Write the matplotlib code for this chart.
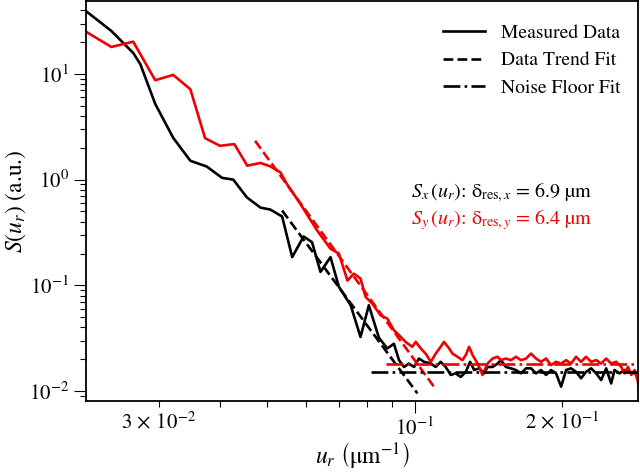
import matplotlib
matplotlib.use("Agg")
import matplotlib.pyplot as plt
from matplotlib.ticker import FuncFormatter, LogLocator

plt.rcParams["font.family"] = "STIXGeneral"
plt.rcParams["mathtext.fontset"] = "stix"
plt.rcParams["font.size"] = 14

# measured spectrum, x direction (black)
ux = [0.0213, 0.0240, 0.0266, 0.0275, 0.0295, 0.0321, 0.0348, 0.0376, 0.0404, 0.0426,
      0.0454, 0.0484, 0.0507, 0.0536, 0.0562, 0.0593, 0.0617, 0.0642, 0.0673, 0.0700,
      0.0740, 0.0775, 0.0806, 0.0845, 0.0879, 0.0907, 0.0929, 0.0951, 0.0973, 0.0997,
      0.1020, 0.1045, 0.1079, 0.1104, 0.1130, 0.1157, 0.1185, 0.1213, 0.1242, 0.1272,
      0.1298, 0.1323, 0.1355, 0.1387, 0.1409, 0.1443, 0.1477, 0.1500, 0.1536, 0.1573,
      0.1611, 0.1649, 0.1689, 0.1729, 0.1770, 0.1812, 0.1856, 0.1900, 0.1945, 0.1992,
      0.2039, 0.2087, 0.2137, 0.2188, 0.2240, 0.2294, 0.2349, 0.2405, 0.2462, 0.2521,
      0.2560, 0.2622, 0.2685, 0.2749, 0.2815, 0.2883]
sx = [39.3, 25.5, 15.8, 12.4, 5.21, 2.49, 1.51, 1.33, 1.04, 1.00,
      0.68, 0.544, 0.521, 0.448, 0.185, 0.290, 0.256, 0.134, 0.185, 0.097,
      0.0648, 0.0325, 0.0648, 0.0320, 0.0253, 0.0280, 0.0196, 0.0169, 0.0182, 0.0169,
      0.0203, 0.0189, 0.0182, 0.0169, 0.0189, 0.0169, 0.0142, 0.0147, 0.0136, 0.0152,
      0.0189, 0.0158, 0.0164, 0.0147, 0.0169, 0.0169, 0.0182, 0.0196, 0.0169, 0.0164,
      0.0158, 0.0147, 0.0164, 0.0164, 0.0147, 0.0158, 0.0142, 0.0158, 0.0147, 0.0110,
      0.0158, 0.0164, 0.0152, 0.0132, 0.0152, 0.0164, 0.0147, 0.0127, 0.0164, 0.0118,
      0.0158, 0.0147, 0.0158, 0.0152, 0.0147, 0.0152]

# measured spectrum, y direction (red)
uy = [0.0213, 0.0240, 0.0266, 0.0295, 0.0321, 0.0348, 0.0373, 0.0400, 0.0428, 0.0455,
      0.0484, 0.0507, 0.0532, 0.0548, 0.0584, 0.0632, 0.0673, 0.0700, 0.0729, 0.0751,
      0.0775, 0.0794, 0.0819, 0.0852, 0.0879, 0.0907, 0.0929, 0.0958, 0.0989, 0.1005,
      0.1029, 0.1053, 0.1079, 0.1104, 0.1130, 0.1148, 0.1176, 0.1195, 0.1223, 0.1252,
      0.1272, 0.1292, 0.1313, 0.1345, 0.1376, 0.1409, 0.1443, 0.1477, 0.1500, 0.1536,
      0.1573, 0.1611, 0.1649, 0.1689, 0.1729, 0.1770, 0.1812, 0.1856, 0.1900, 0.1945,
      0.1992, 0.2039, 0.2087, 0.2137, 0.2188, 0.2240, 0.2294, 0.2349, 0.2405, 0.2462,
      0.2521, 0.2581, 0.2643, 0.2685, 0.2729, 0.2771, 0.2815, 0.2860, 0.2883]
sy = [25.1, 18.0, 20.2, 8.72, 9.8, 7.17, 2.47, 2.09, 2.17, 1.355,
      1.44, 1.335, 1.17, 0.91, 0.59, 0.33, 0.222, 0.200, 0.111, 0.129,
      0.116, 0.0777, 0.0672, 0.052, 0.0485, 0.0376, 0.0338, 0.0292, 0.0262, 0.0292,
      0.0253, 0.0226, 0.0189, 0.0226, 0.0262, 0.0292, 0.0253, 0.0226, 0.0211, 0.0196,
      0.0219, 0.0262, 0.0219, 0.0182, 0.0142, 0.0182, 0.0203, 0.0211, 0.0196, 0.0203,
      0.0196, 0.0211, 0.0196, 0.0203, 0.0226, 0.0203, 0.0189, 0.0203, 0.0176, 0.0189,
      0.0182, 0.0196, 0.0182, 0.0211, 0.0189, 0.0211, 0.0189, 0.0196, 0.0182, 0.0203,
      0.0182, 0.0189, 0.0169, 0.0147, 0.0169, 0.0142, 0.0158, 0.0122, 0.0079]

# fitted lines (end points)
trend_x_u = [0.0536, 0.1013]
trend_x_s = [0.51, 0.0095]
trend_y_u = [0.0472, 0.1095]
trend_y_s = [2.33, 0.011]
noise_x_u = [0.0813, 0.29]
noise_x_s = [0.0152, 0.0152]
noise_y_u = [0.0872, 0.29]
noise_y_s = [0.0182, 0.0182]

red = "#ee0000"
lw = 1.9

fig = plt.figure(figsize=(6.4, 4.72), dpi=100)
ax = fig.add_axes([86 / 640, 1 - 401 / 472, 552 / 640, 400 / 472])

ax.plot(ux, sx, color="black", lw=lw, label="Measured Data")
ax.plot(uy, sy, color=red, lw=lw)
ax.plot(trend_x_u, trend_x_s, color="black", lw=lw, ls="--", label="Data Trend Fit")
ax.plot(trend_y_u, trend_y_s, color=red, lw=lw, ls="--")
ax.plot(noise_x_u, noise_x_s, color="black", lw=lw, ls="-.", label="Noise Floor Fit")
ax.plot(noise_y_u, noise_y_s, color=red, lw=lw, ls="-.")

ax.set_xscale("log")
ax.set_yscale("log")
ax.set_xlim(0.0213, 0.286)
ax.set_ylim(0.00805, 49)

ax.xaxis.set_minor_locator(LogLocator(base=10, subs=range(2, 10)))


def minor_fmt(v, pos):
    # only two of the minor ticks carry a label
    if abs(v - 0.03) < 1e-6:
        return r"$3\,\times\,10^{-2}$"
    if abs(v - 0.2) < 1e-6:
        return r"$2\,\times\,10^{-1}$"
    return ""


ax.xaxis.set_minor_formatter(FuncFormatter(minor_fmt))

ax.tick_params(which="major", direction="out", length=8.5, width=0.8, labelsize=15)
ax.tick_params(which="minor", direction="out", length=4.5, width=0.8, labelsize=15)
for s in ax.spines.values():
    s.set_linewidth(1.3)

ax.set_xlabel(r"$u_r\ \left(\mathrm{\mu m}^{-1}\right)$", fontsize=17, va="center")
ax.set_ylabel(r"$S\left(u_r\right)$ (a.u.)", fontsize=17, va="center")
ax.xaxis.set_label_coords(0.5, -0.135)
ax.yaxis.set_label_coords(-0.128, 0.5)

ax.legend(loc="upper right", bbox_to_anchor=(1.0, 0.985), frameon=False, fontsize=14,
          handlelength=2.2, handletextpad=0.8, labelspacing=0.5)

ax.text(0.588, 0.52, r"$S_x\,(u_r)$: δ$_{\mathrm{res},x}$ = 6.9 µm",
        transform=ax.transAxes, color="black", fontsize=14.5, va="center")
ax.text(0.588, 0.4525, r"$S_y\,(u_r)$: δ$_{\mathrm{res},y}$ = 6.4 µm",
        transform=ax.transAxes, color=red, fontsize=14.5, va="center")

plt.savefig("out.png", dpi=100)
plt.close()
